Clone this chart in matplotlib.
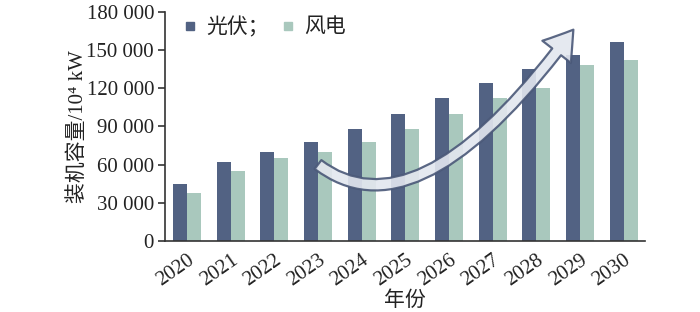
import numpy as np
import matplotlib
matplotlib.use('Agg')
import matplotlib.pyplot as plt
from matplotlib.lines import Line2D
from matplotlib.patches import FancyArrowPatch
from matplotlib.path import Path
from matplotlib.ticker import FuncFormatter

plt.rcParams['font.family'] = ['Liberation Serif', 'Noto Sans CJK SC']

# data (10^4 kW)
years = ['2020', '2021', '2022', '2023', '2024', '2025', '2026', '2027', '2028', '2029', '2030']
solar = [45000, 62000, 70000, 78000, 88000, 100000, 112000, 124000, 135000, 146000, 156000]
wind = [38000, 55000, 65000, 70000, 78000, 88000, 100000, 112000, 120000, 138000, 142000]
yticks = [0, 30000, 60000, 90000, 120000, 150000, 180000]

c_solar = '#526283'
c_wind = '#a9c8bd'

fig = plt.figure(figsize=(7, 3.12), dpi=100)
ax = fig.add_axes([0.236, 0.228, 0.686, 0.734])

x = np.arange(len(years))
w = 0.32
ax.bar(x - w / 2, solar, w, color=c_solar, zorder=2)
ax.bar(x + w / 2, wind, w, color=c_wind, zorder=2)

# curved trend arrow (quadratic bezier)
verts = [(3.0, 60000), (5.3, 0), (8.85, 166000)]
codes = [Path.MOVETO, Path.CURVE3, Path.CURVE3]
arrow = FancyArrowPatch(path=Path(verts, codes),
                        arrowstyle='simple,head_width=26,head_length=20,tail_width=8',
                        facecolor='#e3e7ef', edgecolor='#4a5878', lw=1.6,
                        alpha=0.9, zorder=3, shrinkA=0, shrinkB=0)
ax.add_patch(arrow)

ax.set_xlim(-0.5, 10.5)
ax.set_ylim(0, 180000)
ax.set_yticks(yticks)
ax.yaxis.set_major_formatter(FuncFormatter(lambda v, p: f'{int(v):,}'.replace(',', ' ')))
ax.set_xticks(x)
ax.set_xticklabels(years, rotation=35, ha='right', rotation_mode='anchor')

for s in ['top', 'right']:
    ax.spines[s].set_visible(False)
for s in ['left', 'bottom']:
    ax.spines[s].set_color('#333333')
    ax.spines[s].set_linewidth(1.2)
ax.tick_params(axis='y', direction='out', length=5, width=1.2, color='#333333',
               labelsize=15, labelcolor='#222222', pad=3)
ax.tick_params(axis='x', length=0, labelsize=15, labelcolor='#222222', pad=7)

ax.set_ylabel('装机容量/10\u2074 kW', fontsize=15, color='#222222', labelpad=-1)
ax.set_xlabel('年份', fontsize=15, color='#222222', labelpad=1)

handles = [Line2D([], [], marker='s', ls='none', color=c_solar, markersize=6),
           Line2D([], [], marker='s', ls='none', color=c_wind, markersize=6)]
ax.legend(handles, ['光伏；', '风电'], ncol=2, loc='upper left',
          bbox_to_anchor=(-0.005, 1.06), frameon=False, fontsize=15,
          handlelength=0.8, handletextpad=0.4, columnspacing=0.5,
          labelcolor='#222222')

fig.savefig('out.png', dpi=100)
